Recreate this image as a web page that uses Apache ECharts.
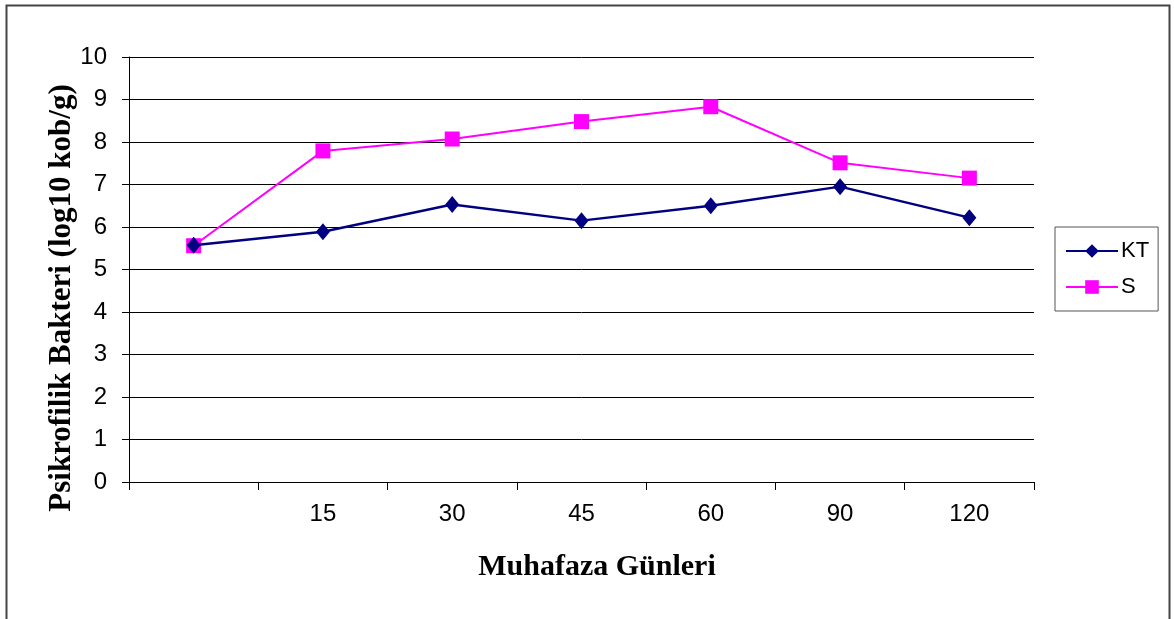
<!DOCTYPE html>
<html>
<head>
<meta charset="utf-8">
<script src="https://cdn.jsdelivr.net/npm/echarts@6/dist/echarts.min.js"></script>
<style>html,body{margin:0;padding:0;background:#fff;}#c{width:1174px;height:619px;}</style>
</head>
<body>
<div id="c"></div>
<script>
var categories = ['', '15', '30', '45', '60', '90', '120'];
var ktValues = [5.57, 5.89, 6.53, 6.15, 6.50, 6.95, 6.22];
var sValues = [5.56, 7.79, 8.07, 8.48, 8.83, 7.51, 7.15];
var yTicks = {min: 0, max: 10, interval: 1};
var yTitle = 'Psikrofilik Bakteri (log10 kob/g)';
var xTitle = 'Muhafaza Günleri';

var chart = echarts.init(document.getElementById('c'), null, {renderer: 'canvas'});
chart.setOption({
  animation: false,
  backgroundColor: '#fff',
  grid: {left: 129, right: 140, top: 57, bottom: 137, containLabel: false},
  xAxis: {
    type: 'category',
    data: categories,
    boundaryGap: true,
    axisLine: {lineStyle: {color: '#000', width: 1}},
    axisTick: {show: true, inside: false, length: 8, alignWithLabel: false, interval: 0, lineStyle: {color: '#000'}},
    axisLabel: {interval: 0, margin: 20, color: '#000', fontFamily: 'Liberation Sans, Arial', fontSize: 24},
    splitLine: {show: false}
  },
  yAxis: {
    type: 'value',
    min: yTicks.min, max: yTicks.max, interval: yTicks.interval,
    axisLine: {show: true, lineStyle: {color: '#000', width: 1}},
    axisTick: {show: true, length: 7, lineStyle: {color: '#000'}},
    axisLabel: {margin: 22, color: '#000', fontFamily: 'Liberation Sans, Arial', fontSize: 24},
    splitLine: {show: true, lineStyle: {color: '#000', width: 1}}
  },
  legend: {
    orient: 'vertical',
    left: 1055, top: 227,
    padding: [13, 9, 13, 10],
    itemGap: 14,
    itemWidth: 52, itemHeight: 17,
    borderColor: '#555', borderWidth: 1,
    textStyle: {color: '#000', fontFamily: 'Liberation Sans, Arial', fontSize: 22, padding: [0,0,0,-2]},
    data: ['KT', 'S']
  },
  graphic: [
    {type: 'rect', shape: {x: 6.5, y: 5.5, width: 1163, height: 700}, style: {fill: 'none', stroke: '#444', lineWidth: 2}, silent: true, z: -1},
    {type: 'text', x: 62, y: 298, rotation: Math.PI / 2,
     style: {text: yTitle, textAlign: 'center', textVerticalAlign: 'middle', fill: '#000',
             font: 'bold 31px "Liberation Serif", "Times New Roman", serif'}},
    {type: 'text', x: 597, y: 567,
     style: {text: xTitle, textAlign: 'center', textVerticalAlign: 'middle', fill: '#000',
             font: 'bold 30px "Liberation Serif", "Times New Roman", serif'}}
  ],
  series: [
    {name: 'KT', type: 'line', data: ktValues, symbol: 'diamond', symbolSize: [14, 17],
     lineStyle: {color: '#000080', width: 2.5}, itemStyle: {color: '#000080'}, z: 3},
    {name: 'S', type: 'line', data: sValues, symbol: 'rect', symbolSize: 15,
     lineStyle: {color: '#FF00FF', width: 2}, itemStyle: {color: '#FF00FF'}, z: 2}
  ]
});
</script>
</body>
</html>
